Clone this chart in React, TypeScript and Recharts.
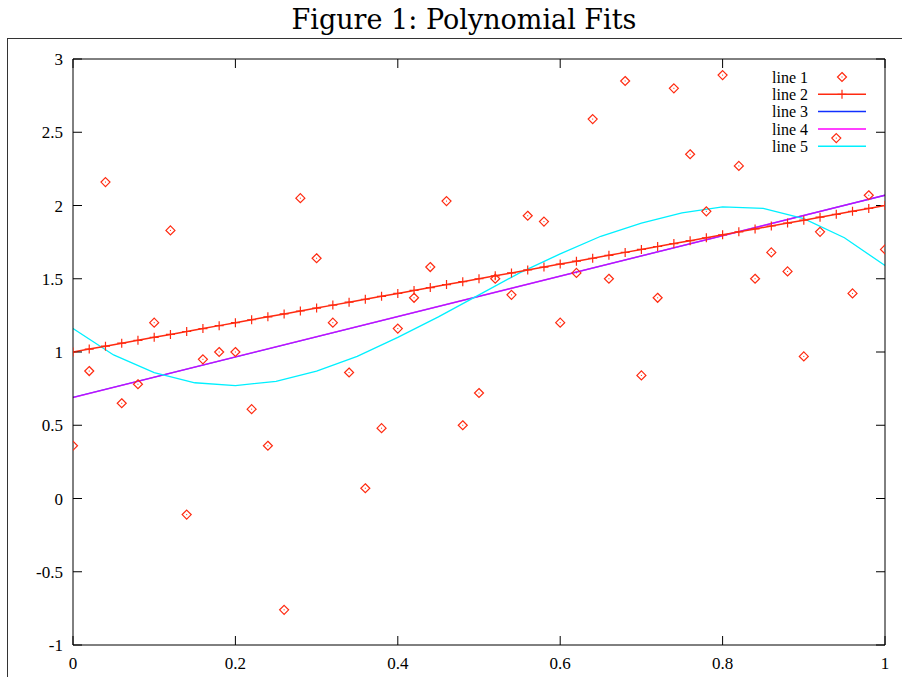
import { ComposedChart, Line, Scatter, XAxis, YAxis, Legend } from 'recharts';

// line 1: the raw points
const pointX = [
  0, 0.02, 0.04, 0.06, 0.08, 0.1, 0.12, 0.14, 0.16, 0.18,
  0.2, 0.22, 0.24, 0.26, 0.28, 0.3, 0.32, 0.34, 0.36, 0.38,
  0.4, 0.42, 0.44, 0.46, 0.48, 0.5, 0.52, 0.54, 0.56, 0.58,
  0.6, 0.62, 0.64, 0.66, 0.68, 0.7, 0.72, 0.74, 0.76, 0.78,
  0.8, 0.82, 0.84, 0.86, 0.88, 0.9, 0.92, 0.94, 0.96, 0.98, 1,
];
const pointY = [
  0.36, 0.87, 2.16, 0.65, 0.78, 1.2, 1.83, -0.11, 0.95, 1.0,
  1.0, 0.61, 0.36, -0.76, 2.05, 1.64, 1.2, 0.86, 0.07, 0.48,
  1.16, 1.37, 1.58, 2.03, 0.5, 0.72, 1.5, 1.39, 1.93, 1.89,
  1.2, 1.54, 2.59, 1.5, 2.85, 0.84, 1.37, 2.8, 2.35, 1.96,
  2.89, 2.27, 1.5, 1.68, 1.55, 0.97, 1.82, 2.46, 1.4, 2.07, 1.7,
];

// line 2: sampled on the same x grid
const line2Y = [
  1.0, 1.02, 1.04, 1.06, 1.08, 1.1, 1.12, 1.14, 1.16, 1.18,
  1.2, 1.22, 1.24, 1.26, 1.28, 1.3, 1.32, 1.34, 1.36, 1.38,
  1.4, 1.42, 1.44, 1.46, 1.48, 1.5, 1.52, 1.54, 1.56, 1.58,
  1.6, 1.62, 1.64, 1.66, 1.68, 1.7, 1.72, 1.74, 1.76, 1.78,
  1.8, 1.82, 1.84, 1.86, 1.88, 1.9, 1.92, 1.94, 1.96, 1.98, 2.0,
];

// lines 3 and 4: straight fits
const fitX = [0, 1];
const line3Y = [0.69, 2.07];
const line4Y = [0.69, 2.07];

// line 5: cubic fit
const cubicX = [0, 0.05, 0.1, 0.15, 0.2, 0.25, 0.3, 0.35, 0.4, 0.45, 0.5, 0.55, 0.6, 0.65, 0.7, 0.75, 0.8, 0.85, 0.9, 0.95, 1];
const line5Y = [1.16, 0.98, 0.86, 0.79, 0.77, 0.8, 0.87, 0.97, 1.1, 1.24, 1.39, 1.54, 1.67, 1.79, 1.88, 1.95, 1.99, 1.98, 1.91, 1.78, 1.59];

const xTicks = [0, 0.2, 0.4, 0.6, 0.8, 1];
const yTicks = [-1, -0.5, 0, 0.5, 1, 1.5, 2, 2.5, 3];

const legendNames = ['line 1', 'line 2', 'line 3', 'line 4', 'line 5'];

const RED = '#ff2a10';
const BLUE = '#1030ff';
const MAGENTA = '#ff00ff';
const CYAN = '#00f0ff';

const points = pointX.map((x, i) => ({ x, y: pointY[i] }));
const line2 = pointX.map((x, i) => ({ x, y: line2Y[i] }));
const line3 = fitX.map((x, i) => ({ x, y: line3Y[i] }));
const line4 = fitX.map((x, i) => ({ x, y: line4Y[i] }));
const line5 = cubicX.map((x, i) => ({ x, y: line5Y[i] }));

const serif = '"Liberation Serif", "Times New Roman", serif';

const Diamond = ({ cx, cy }: any) => (
  <g>
    <path d={`M${cx},${cy - 4.5}L${cx + 4.5},${cy}L${cx},${cy + 4.5}L${cx - 4.5},${cy}Z`} fill="none" stroke={RED} strokeWidth={1.2} />
    <rect x={cx - 0.5} y={cy - 0.5} width={1} height={1} fill={RED} />
  </g>
);

const Plus = ({ cx, cy, index }: any) => (
  <path key={`plus-${index}`} d={`M${cx - 4.5},${cy}H${cx + 4.5}M${cx},${cy - 4.5}V${cy + 4.5}`} stroke={RED} strokeWidth={1.2} fill="none" />
);

const LegendBox = () => (
  <svg width={130} height={95}>
    {legendNames.map((name, i) => {
      const y = 11 + i * 17.3;
      return (
        <g key={name}>
          <text x={48} y={y} dy="0.35em" textAnchor="end" fontFamily={serif} fontSize={16} fill="#000">
            {name}
          </text>
          {i === 0 && <Diamond cx={82} cy={y} />}
          {i === 1 && (
            <g>
              <line x1={58} x2={106} y1={y} y2={y} stroke={RED} strokeWidth={1.5} />
              <Plus cx={82} cy={y} />
            </g>
          )}
          {i === 2 && <line x1={58} x2={106} y1={y} y2={y} stroke={BLUE} strokeWidth={1.5} />}
          {i === 3 && <line x1={58} x2={106} y1={y} y2={y} stroke={MAGENTA} strokeWidth={1.5} />}
          {i === 4 && <line x1={58} x2={106} y1={y} y2={y} stroke={CYAN} strokeWidth={1.5} />}
        </g>
      );
    })}
  </svg>
);

const tickStyle = { fontFamily: serif, fontSize: 17, fill: '#000' };

export default function App() {
  return (
    <div style={{ position: 'absolute', left: 0, top: 0, width: 902, height: 677, background: '#fff', overflow: 'hidden' }}>
      <div
        style={{
          position: 'absolute',
          left: 0,
          width: 928,
          top: 4,
          textAlign: 'center',
          fontFamily: '"DejaVu Serif", serif',
          fontSize: 27,
          color: '#000',
          lineHeight: '32px',
        }}
      >
        Figure 1: Polynomial Fits
      </div>
      <div
        style={{
          position: 'absolute',
          left: 7,
          top: 38,
          width: 920,
          height: 700,
          borderTop: '1.5px solid #333',
          borderLeft: '1.5px solid #333',
        }}
      />
      <div style={{ position: 'absolute', left: 0, top: 0 }}>
        <ComposedChart width={902} height={677} margin={{ top: 0, right: 0, bottom: 0, left: 0 }}>
          <XAxis
            xAxisId="b"
            dataKey="x"
            type="number"
            domain={[0, 1]}
            ticks={xTicks}
            allowDataOverflow
            orientation="bottom"
            height={32}
            tickSize={-9}
            tickMargin={21}
            stroke="#000"
            tick={tickStyle}
          />
          <XAxis
            xAxisId="t"
            dataKey="x"
            type="number"
            domain={[0, 1]}
            ticks={xTicks}
            allowDataOverflow
            orientation="top"
            height={59}
            tickSize={-9}
            stroke="#000"
            tickFormatter={() => ''}
          />
          <YAxis
            yAxisId="l"
            dataKey="y"
            type="number"
            domain={[-1, 3]}
            ticks={yTicks}
            allowDataOverflow
            orientation="left"
            width={73}
            tickSize={-9}
            tickMargin={19}
            stroke="#000"
            tick={tickStyle}
          />
          <YAxis
            yAxisId="r"
            type="number"
            domain={[-1, 3]}
            ticks={yTicks}
            allowDataOverflow
            orientation="right"
            width={17}
            tickSize={-9}
            stroke="#000"
            tickFormatter={() => ''}
          />
          <Legend layout="vertical" align="center" verticalAlign="middle" wrapperStyle={{ top: 66, left: 760, width: 130 }} content={LegendBox} />
          <Line
            xAxisId="b"
            yAxisId="l"
            data={line3}
            dataKey="y"
            stroke={BLUE}
            strokeWidth={1.3}
            dot={false}
            isAnimationActive={false}
          />
          <Line
            xAxisId="b"
            yAxisId="l"
            data={line4}
            dataKey="y"
            stroke={MAGENTA}
            strokeOpacity={0.7}
            strokeWidth={1.5}
            dot={false}
            isAnimationActive={false}
          />
          <Line
            xAxisId="b"
            yAxisId="l"
            data={line5}
            dataKey="y"
            stroke={CYAN}
            strokeWidth={1.3}
            dot={false}
            isAnimationActive={false}
          />
          <Line
            xAxisId="b"
            yAxisId="l"
            data={line2}
            dataKey="y"
            stroke={RED}
            strokeWidth={1.5}
            dot={(p: any) => <Plus key={`d-${p.index}`} {...p} />}
            isAnimationActive={false}
          />
          <Scatter
            xAxisId="b"
            yAxisId="l"
            data={points}
            dataKey="y"
            shape={(p: any) => <Diamond {...p} />}
            isAnimationActive={false}
          />
        </ComposedChart>
      </div>
    </div>
  );
}
